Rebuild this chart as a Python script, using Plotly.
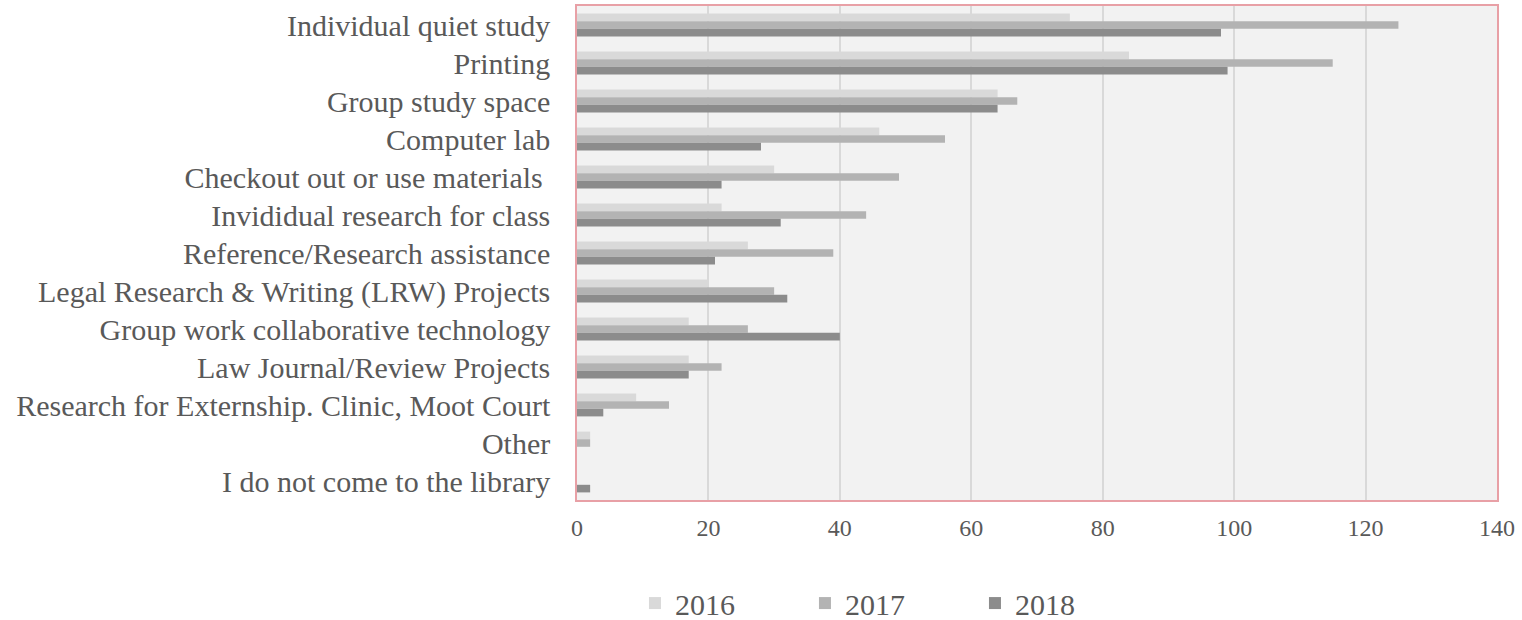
import plotly.graph_objects as go

categories = [
    "Individual quiet study",
    "Printing",
    "Group study space",
    "Computer lab",
    "Checkout out or use materials ",
    "Invididual research for class",
    "Reference/Research assistance",
    "Legal Research & Writing (LRW) Projects",
    "Group work collaborative technology",
    "Law Journal/Review Projects",
    "Research for Externship. Clinic, Moot Court",
    "Other",
    "I do not come to the library",
]
v2016 = [75, 84, 64, 46, 30, 22, 26, 20, 17, 17, 9, 2, 0]
v2017 = [125, 115, 67, 56, 49, 44, 39, 30, 26, 22, 14, 2, 0]
v2018 = [98, 99, 64, 28, 22, 31, 21, 32, 40, 17, 4, 0, 2]
series = [("2016", v2016, "#d9d9d9"), ("2017", v2017, "#b3b3b3"), ("2018", v2018, "#8c8c8c")]

FONT = "Liberation Serif"

fig = go.Figure()
for name, vals, col in series:
    fig.add_trace(go.Bar(y=categories, x=vals, name=name, orientation="h",
                         marker=dict(color=col, line=dict(width=0))))

fig.update_layout(
    width=1522, height=620,
    margin=dict(l=577, r=25, t=6, b=120, autoexpand=False),
    paper_bgcolor="white", plot_bgcolor="#f2f2f2",
    barmode="group", bargap=0.4, bargroupgap=0,
    font=dict(family=FONT, color="#595959"),
    legend=dict(orientation="h", x=0.063, xanchor="left", y=-0.156, yanchor="top",
                font=dict(size=30, color="#595959"), entrywidth=125,
                itemsizing="constant"),
    showlegend=True,
)
fig.update_xaxes(range=[0, 140], dtick=20, showgrid=True, gridcolor="#d9d9d9", gridwidth=1.5,
                 tickfont=dict(size=24, color="#595959"), zeroline=False,
                 showline=True, linecolor="#e8a0a6", mirror=True, linewidth=1.5, ticks="",
                 ticklabelstandoff=5, automargin=False)
fig.update_yaxes(autorange="reversed", tickfont=dict(size=30, color="#595959"),
                 tickmode="array", tickvals=categories, ticktext=categories,
                 showline=True, linecolor="#e8a0a6", mirror=True, linewidth=1.5,
                 ticks="", ticklabelstandoff=19, automargin=False)

fig.write_html("out.html", config={"displayModeBar": False},
               post_script="document.body.style.margin='0px';")
